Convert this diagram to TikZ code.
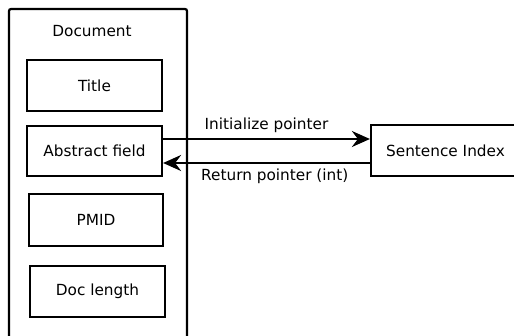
\documentclass[tikz,border=0pt]{standalone}
\usepackage{fontspec}
\setmainfont{DejaVu Sans}
\usetikzlibrary{arrows.meta,calc}
\begin{document}
\begin{tikzpicture}[x=1pt,y=-1pt,
  every node/.style={font=\fontsize{15.3}{18}\selectfont},
  field/.style={draw,line width=2.2pt,minimum width=135pt,minimum height=51pt,inner sep=0pt},
  link/.style={line width=2.2pt,-{Stealth[length=18pt,width=16pt,inset=6pt]}}]
\useasboundingbox (0,0) rectangle (514,335);
\clip (0,0) rectangle (514,335);
% document container, open past the lower edge
\draw[line width=2.2pt,rounded corners=2pt] (9,350) -- (9,9) -- (187,9) -- (187,350);
\node (doc) at (92,31) {Document};
\node[field] (title) at (94.5,85.5) {Title};
\node[field,minimum height=50pt] (abs) at (94.5,151) {Abstract field};
\node[field,minimum width=134pt,minimum height=52pt] (pmid) at (96,220) {PMID};
\node[field] (len) at (97.5,291.5) {Doc length};
% index box, running past the right edge
\node[field,minimum width=149pt] (si) at (445.5,150.5) {Sentence Index};
\draw[link] ([yshift=12pt]abs.east) -- node[above=2pt] {Initialize pointer} ([yshift=12pt]abs.east -| si.west);
\draw[link] ([yshift=-12pt]abs.east -| si.west) -- node[pos=0.46,below=1pt] {Return pointer (int)} ([yshift=-12pt]abs.east);
\end{tikzpicture}
\end{document}
